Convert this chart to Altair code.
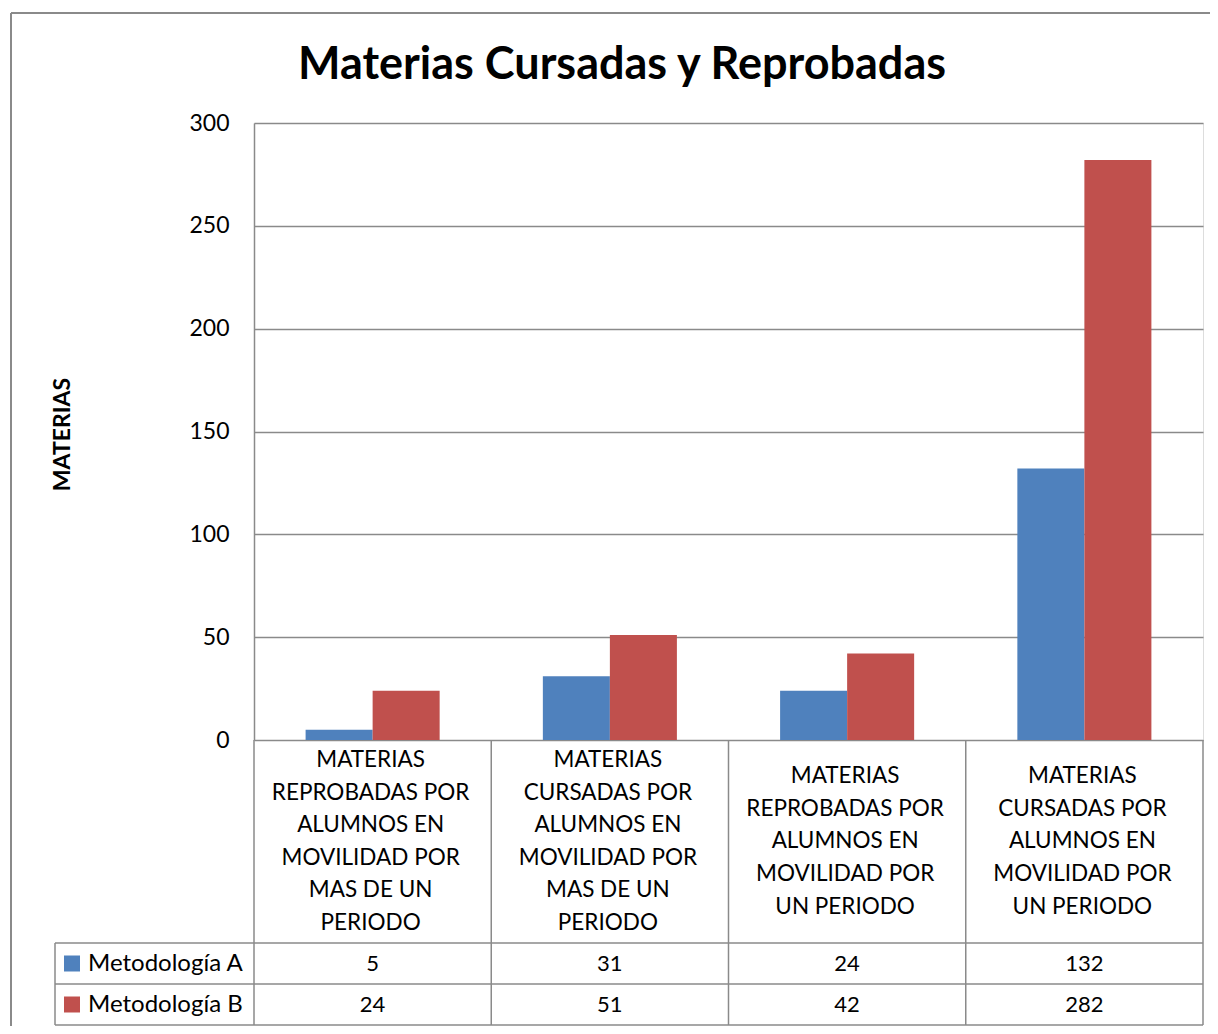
import altair as alt
import pandas as pd

# ---------------- data ----------------
cat_ids = ["c1", "c2", "c3", "c4"]
category_lines = [
    ["MATERIAS", "REPROBADAS POR", "ALUMNOS EN", "MOVILIDAD POR", "MAS DE UN", "PERIODO"],
    ["MATERIAS", "CURSADAS POR", "ALUMNOS EN", "MOVILIDAD POR", "MAS DE UN", "PERIODO"],
    ["MATERIAS", "REPROBADAS POR", "ALUMNOS EN", "MOVILIDAD POR", "UN PERIODO"],
    ["MATERIAS", "CURSADAS POR", "ALUMNOS EN", "MOVILIDAD POR", "UN PERIODO"],
]
series_names = ["Metodología A", "Metodología B"]
values_a = [5, 31, 24, 132]
values_b = [24, 51, 42, 282]
series_colors = ["#4F81BD", "#C0504D"]
y_ticks = [0, 50, 100, 150, 200, 250, 300]
chart_title = "Materias Cursadas y Reprobadas"
y_title = "MATERIAS"

# ---------------- layout constants ----------------
LEFT_PAD, TOP_PAD = 246, 115
W, H = 949, 617
RIGHT_PAD = 1202 - LEFT_PAD - W
BOTTOM_PAD = 1018 - TOP_PAD - H
LABEL_ROW = 203
ROW = 41
LINE_H = 32.6
TABLE_TOP = H + LABEL_ROW
TABLE_BOTTOM = TABLE_TOP + 2 * ROW
LEGEND_LEFT = 55 - (8 + LEFT_PAD)
GRID = "#8a8a8a"
FONT = "Lato"
BORDER_X = 11 - (8 + LEFT_PAD)
BORDER_Y = 13 - (8 + TOP_PAD)

rows = []
for i, c in enumerate(cat_ids):
    rows.append({"cat": c, "serie": series_names[0], "value": values_a[i]})
    rows.append({"cat": c, "serie": series_names[1], "value": values_b[i]})
df = pd.DataFrame(rows)
labels_df = pd.DataFrame({
    "cat": cat_ids,
    "label": ["\n".join(l) for l in category_lines],
    "n": [len(l) for l in category_lines],
})
legend_df = pd.DataFrame({"serie": series_names})
one = pd.DataFrame({"k": [0]})

xscale = alt.Scale(domain=cat_ids, paddingInner=0, paddingOuter=0)
cscale = alt.Scale(domain=series_names, range=series_colors)

bars = alt.Chart(df).mark_bar().encode(
    x=alt.X("cat:N", scale=xscale, axis=None, sort=cat_ids),
    xOffset=alt.XOffset("serie:N", scale=alt.Scale(domain=series_names, paddingInner=0, paddingOuter=0.77)),
    y=alt.Y("value:Q",
            scale=alt.Scale(domain=[0, 300], nice=False),
            axis=alt.Axis(values=y_ticks, grid=True, gridColor=GRID, gridWidth=1.5,
                          domainColor=GRID, domainWidth=1.5, ticks=False,
                          labelFontSize=23, labelPadding=25, labelColor="black", labelFont=FONT,
                          title=y_title, titleFont=FONT, titleFontSize=23, titleFontWeight="bold",
                          titleColor="black", titleX=62 - (8 + LEFT_PAD), titleY=434 - (8 + TOP_PAD),
                          titleAngle=270, titleAlign="center", titleBaseline="middle")),
    color=alt.Color("serie:N", scale=cscale, legend=None),
)

label_layers = []
for n in sorted(set(labels_df["n"])):
    label_layers.append(
        alt.Chart(labels_df).transform_filter(alt.datum.n == n).mark_text(
            fontSize=22.5, font=FONT, lineBreak="\n", lineHeight=LINE_H, baseline="middle",
            align="center", color="black", dx=-2
        ).encode(
            x=alt.X("cat:N", scale=xscale, sort=cat_ids),
            y=alt.value(H + LABEL_ROW / 2 - (n - 1) / 2 * LINE_H),
            text="label:N",
        )
    )

table_layers = []
for i, s in enumerate(series_names):
    yc = TABLE_TOP + ROW * i + ROW / 2
    table_layers.append(
        alt.Chart(df).transform_filter(alt.datum.serie == s).mark_text(
            fontSize=22, font=FONT, baseline="middle", align="center", color="black"
        ).encode(x=alt.X("cat:N", scale=xscale, sort=cat_ids), y=alt.value(yc), text="value:Q")
    )
    table_layers.append(
        alt.Chart(legend_df).transform_filter(alt.datum.serie == s).mark_square(size=256, opacity=1).encode(
            x=alt.value(LEGEND_LEFT + 17), y=alt.value(yc),
            color=alt.Color("serie:N", scale=cscale, legend=None)
        )
    )
    table_layers.append(
        alt.Chart(legend_df).transform_filter(alt.datum.serie == s).mark_text(
            fontSize=24, font=FONT, baseline="middle", align="left", color="black"
        ).encode(x=alt.value(LEGEND_LEFT + 33), y=alt.value(yc), text="serie:N")
    )

# table grid lines
vlines = alt.Chart(labels_df).mark_rule(color=GRID, strokeWidth=1.5).encode(
    x=alt.X("cat:N", scale=xscale, sort=cat_ids, bandPosition=0),
    y=alt.value(H), y2=alt.value(TABLE_BOTTOM),
)
vline_end = alt.Chart(one).mark_rule(color=GRID, strokeWidth=1.5).encode(
    x=alt.value(W), y=alt.value(H), y2=alt.value(TABLE_BOTTOM))
vline_leg = alt.Chart(one).mark_rule(color=GRID, strokeWidth=1.5).encode(
    x=alt.value(LEGEND_LEFT), y=alt.value(TABLE_TOP), y2=alt.value(TABLE_BOTTOM))
hlines = [
    alt.Chart(one).mark_rule(color=GRID, strokeWidth=1.5).encode(
        x=alt.value(LEGEND_LEFT), x2=alt.value(W), y=alt.value(TABLE_TOP + ROW * k))
    for k in range(3)
]
# outer chart border (top and left visible)
border_top = alt.Chart(one).mark_rule(color=GRID, strokeWidth=2).encode(
    x=alt.value(BORDER_X), x2=alt.value(W + RIGHT_PAD), y=alt.value(BORDER_Y))
border_left = alt.Chart(one).mark_rule(color=GRID, strokeWidth=2).encode(
    x=alt.value(BORDER_X), y=alt.value(BORDER_Y), y2=alt.value(H + BOTTOM_PAD))

chart = alt.layer(
    bars, *label_layers, vlines, vline_end, vline_leg, *hlines, *table_layers, border_top, border_left
).properties(
    width=W, height=H,
    title=alt.TitleParams(chart_title, fontSize=45, font=FONT, fontWeight="bold", color="black",
                          anchor="middle", frame="group", dx=622 - (8 + LEFT_PAD) - W / 2, offset=-76),
    autosize=alt.AutoSizeParams(type="none"),
    padding={"left": LEFT_PAD, "top": TOP_PAD, "right": RIGHT_PAD, "bottom": BOTTOM_PAD},
).configure_view(stroke=None).configure(background="white")

chart.save("out.html", embed_options={"renderer": "svg", "actions": False})
